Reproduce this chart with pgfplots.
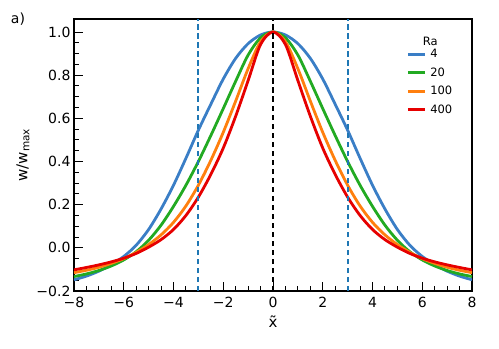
\documentclass[border=0pt]{standalone}
\usepackage{fontspec}
\setmainfont{DejaVu Sans}
\usepackage{pgfplots}
\pgfplotsset{compat=1.18}
\definecolor{cblue}{HTML}{3A7EC6}
\definecolor{cgreen}{HTML}{22AA22}
\definecolor{corange}{HTML}{FF7F0E}
\definecolor{cred}{HTML}{E60000}
\definecolor{dblue}{HTML}{1F77B4}

\begin{document}
\begin{tikzpicture}
\begin{axis}[
    width=398pt, height=272pt, scale only axis,
    xmin=-8, xmax=8, ymin=-0.2, ymax=1.06,
    xtick={-8,-6,-4,-2,0,2,4,6,8},
    xticklabels={−8,−6,−4,−2,0,2,4,6,8},
    ytick={-0.2,0,0.2,0.4,0.6,0.8,1.0},
    yticklabels={−0.2,0.0,0.2,0.4,0.6,0.8,1.0},
    minor x tick num=3, minor y tick num=3,
    tick align=inside, xtick pos=bottom, ytick pos=left,
    major tick length=9pt, minor tick length=5pt,
    axis line style={line width=1.2pt},
    every tick/.style={black, line width=0.9pt},
    tick label style={font=\fontsize{14}{16}\selectfont},
    xticklabel style={yshift=-3pt},
    xlabel={x̃}, ylabel={w/w\textsubscript{max}},
    label style={font=\fontsize{15}{18}\selectfont},
    xlabel style={yshift=-1pt},
    legend style={draw=none, fill=none, at={(0.835,0.897)}, anchor=north west,
        font=\fontsize{11.5}{13}\selectfont, row sep=4.5pt, inner sep=0pt,
        nodes={inner xsep=4pt}},
    legend cell align=left,
    legend image code/.code={\draw[#1] (0pt,0pt) -- (17pt,0pt);},
]
\addplot[cblue, smooth, line width=2.8pt] coordinates {
(-8,-0.148) (-7.5,-0.131) (-7,-0.108) (-6.5,-0.078) (-6,-0.040) (-5.5,0.012)
(-5,0.085) (-4.5,0.180) (-4,0.290) (-3.5,0.415) (-3,0.545) (-2.5,0.665)
(-2,0.782) (-1.5,0.878) (-1,0.946) (-0.5,0.986) (0,1.000)
(0.5,0.986) (1,0.946) (1.5,0.878) (2,0.782) (2.5,0.665) (3,0.545)
(3.5,0.415) (4,0.290) (4.5,0.180) (5,0.085) (5.5,0.012) (6,-0.040)
(6.5,-0.078) (7,-0.108) (7.5,-0.131) (8,-0.148)};
\addlegendentry{4}
\addplot[cgreen, smooth, line width=2.8pt] coordinates {
(-8,-0.133) (-7.5,-0.121) (-7,-0.105) (-6.5,-0.084) (-6,-0.056) (-5.5,-0.018)
(-5,0.035) (-4.5,0.105) (-4,0.192) (-3.5,0.290) (-3,0.400) (-2.5,0.520)
(-2,0.645) (-1.5,0.772) (-1,0.893) (-0.5,0.973) (0,1.000)
(0.5,0.973) (1,0.893) (1.5,0.772) (2,0.645) (2.5,0.520) (3,0.400)
(3.5,0.290) (4,0.192) (4.5,0.105) (5,0.035) (5.5,-0.018) (6,-0.056)
(6.5,-0.084) (7,-0.105) (7.5,-0.121) (8,-0.133)};
\addlegendentry{20}
\addplot[corange, smooth, line width=2.8pt] coordinates {
(-8,-0.115) (-7.5,-0.104) (-7,-0.090) (-6.5,-0.072) (-6,-0.050) (-5.5,-0.021)
(-5,0.015) (-4.5,0.060) (-4,0.118) (-3.5,0.194) (-3,0.290) (-2.5,0.405)
(-2,0.535) (-1.5,0.680) (-1,0.830) (-0.5,0.955) (0,1.000)
(0.5,0.955) (1,0.830) (1.5,0.680) (2,0.535) (2.5,0.405) (3,0.290)
(3.5,0.194) (4,0.118) (4.5,0.060) (5,0.015) (5.5,-0.021) (6,-0.050)
(6.5,-0.072) (7,-0.090) (7.5,-0.104) (8,-0.115)};
\addlegendentry{100}
\addplot[cred, smooth, line width=2.8pt] coordinates {
(-8,-0.102) (-7.5,-0.091) (-7,-0.079) (-6.5,-0.065) (-6,-0.048) (-5.5,-0.026)
(-5,0.003) (-4.5,0.038) (-4,0.085) (-3.5,0.150) (-3,0.235) (-2.5,0.340)
(-2,0.462) (-1.5,0.610) (-1,0.775) (-0.5,0.942) (0,1.000)
(0.5,0.942) (1,0.775) (1.5,0.610) (2,0.462) (2.5,0.340) (3,0.235)
(3.5,0.150) (4,0.085) (4.5,0.038) (5,0.003) (5.5,-0.026) (6,-0.048)
(6.5,-0.065) (7,-0.079) (7.5,-0.091) (8,-0.102)};
\addlegendentry{400}
\addplot[dblue, line width=2.2pt, dash pattern=on 5.5pt off 3.5pt, forget plot] coordinates {(-3,-0.2) (-3,1.06)};
\addplot[dblue, line width=2.2pt, dash pattern=on 5.5pt off 3.5pt, forget plot] coordinates {(3,-0.2) (3,1.06)};
\addplot[black, line width=2.2pt, dash pattern=on 5.5pt off 3.5pt, forget plot] coordinates {(0,-0.2) (0,1.06)};
\node[font=\fontsize{11.5}{13}\selectfont] at (rel axis cs:0.895,0.919) {Ra};
\end{axis}
\node[font=\fontsize{14}{16}\selectfont] at ([xshift=-56pt]current axis.north west) {a)};
\path ([xshift=-74pt,yshift=-57pt]current axis.south west) rectangle ([xshift=27pt,yshift=19pt]current axis.north east);
\end{tikzpicture}
\end{document}
